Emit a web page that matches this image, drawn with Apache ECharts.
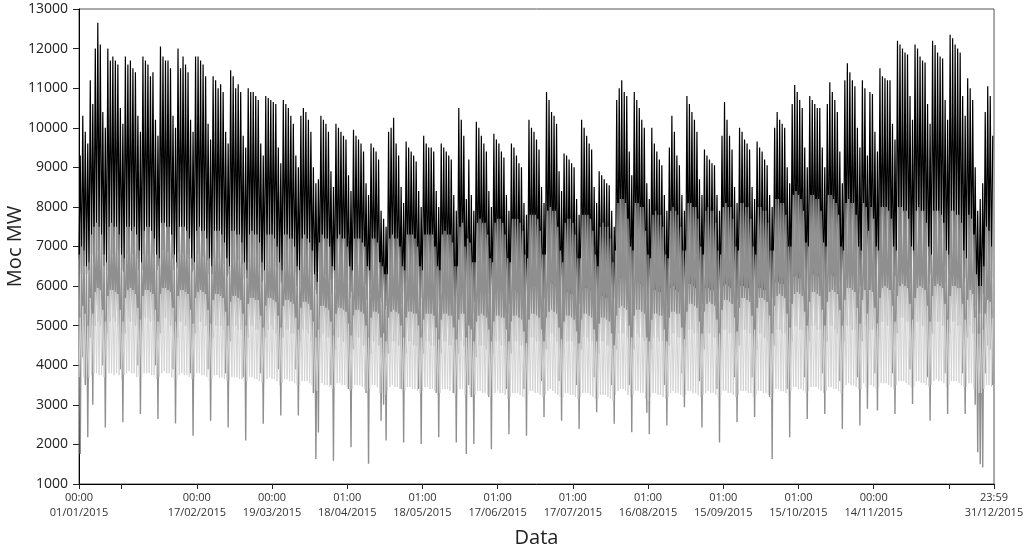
<!DOCTYPE html>
<html>
<head>
<meta charset="utf-8">
<script src="https://cdn.jsdelivr.net/npm/echarts@6/dist/echarts.min.js"></script>
<style>
html,body{margin:0;padding:0;background:#fff;}
#chart{width:1024px;height:550px;}
</style>
</head>
<body>
<div id="chart"></div>
<script>
// x = days since 01/01/2015 00:00 ; each day has a 00:00 reading and a 12:00 reading
// rows: Thu-Sun 1-4 Jan, then Mon..Sun weeks, last row Mon-Thu 28-31 Dec
var blackNight = [
6700,6300,6500,6300,
6400,6800,6600,6900,6900,6800,6500,
6400,6900,6800,6800,6900,6800,6400,
6350,6800,6850,6800,6800,6700,6400,
6400,6800,6800,6750,6800,6700,6400,
6500,6900,6900,6850,6850,6700,6400,
6450,6850,6850,6800,6800,6700,6350,
6400,6800,6800,6750,6750,6650,6300,
6300,6700,6700,6700,6650,6550,6250,
6300,6700,6650,6650,6650,6550,6200,
6200,6600,6600,6550,6550,6450,6100,
6150,6550,6550,6500,6500,6400,6050,
6100,6500,6500,6450,6450,6350,6000,
6050,6400,6400,6400,6350,6200,5900,
5800,6200,6300,6300,6250,6150,5800,
5900,6250,6250,6200,6200,6100,5700,
5850,6200,6200,6150,6150,6050,5650,
5800,6150,6150,6100,5700,5600,5400,
5500,6100,6150,6100,6050,5950,5550,
5750,6100,6100,6050,6050,5950,5500,
5700,6050,6050,6000,6000,5900,5450,
5650,6000,6000,6000,5950,5500,4900,
5300,6000,6050,5900,5600,5600,5300,
5600,6000,6000,5950,5950,5800,5350,
5600,5950,5950,5900,5900,5750,5300,
5550,5900,5900,5850,5850,5700,5250,
5600,5950,6000,6000,5950,5800,5350,
5700,6100,6100,6050,6000,5850,5400,
5500,5850,5850,5800,5800,5650,5200,
5550,5900,5950,5950,5900,5750,5250,
5400,5750,5750,5700,5700,5550,5100,
5700,6100,6200,6250,6200,6000,5500,
5750,6150,6100,6050,6000,5600,5300,
5500,5900,5900,5850,5850,5700,5250,
5500,5950,6000,5900,5850,5700,5250,
5650,6050,6050,6000,5950,5800,5350,
5550,5950,5950,5900,5900,5750,5300,
5600,6000,6050,6000,5950,5800,5350,
5650,6000,6000,5950,5950,5850,5400,
5600,5950,5950,5900,5900,5800,5350,
5700,6100,6100,6050,6050,5950,5500,
5850,6250,6250,6200,6200,6100,5650,
5900,6300,6300,6250,6250,6100,5650,
5900,6300,6300,6250,6250,6100,5500,
6000,6450,6450,6400,6400,6250,5800,
6000,6400,6300,6000,6400,6250,5800,
6100,6500,6500,6450,6450,6300,5900,
6250,6650,6650,6600,6600,6450,6050,
6250,6650,6650,6600,6600,6450,6050,
6300,6700,6700,6650,6650,6500,6100,
6300,6700,6700,6650,6650,6500,6100,
6200,6600,6500,6300,5500,5300,5300,
5800,6400,6400,6200
];
var blackDay = [
9300,10300,9900,9600,
11200,10600,12000,12650,12100,10400,10000,
12000,11700,11800,11700,11600,10500,10100,
11800,11600,11700,11500,11400,10300,9900,
11800,11700,11600,11300,11400,10200,9800,
12050,11800,11700,11700,11500,10300,10000,
12000,11500,11800,11600,11400,10200,9900,
11800,11800,11700,11600,11300,10100,9700,
11300,11200,11000,11100,10900,9900,9600,
11450,11300,11000,11100,10900,9800,9500,
11000,10900,10900,10800,10700,9600,9300,
10800,10750,10700,10650,10600,9500,9100,
10700,10600,10500,10300,10100,9300,9000,
10300,10500,10400,10200,9900,9000,8600,
8700,10300,10200,10100,9900,8900,8500,
10100,10000,9900,9800,9700,8800,8400,
9950,9800,9700,9600,9400,8600,8300,
9600,9500,9400,9200,7900,7700,7500,
9900,10000,10250,9600,9300,8500,8100,
9650,9500,9400,9300,9150,8400,8000,
9800,9600,9500,9500,9400,8400,8000,
9600,9500,9400,9300,9200,8300,7900,
10500,10200,9800,8200,9200,8300,7900,
10150,10000,9800,9600,9400,8400,8000,
9850,9700,9600,9400,9250,8300,7900,
9600,9500,9300,9100,9000,8100,7800,
10200,10000,9900,9700,9450,8500,8100,
10900,10700,10400,10300,10100,8900,8400,
9350,9300,9200,9100,9000,8200,7800,
10200,10000,9800,9600,9450,8500,8100,
8900,8800,8700,8600,8550,7900,7500,
10700,11000,11200,10900,10800,9400,8800,
10900,10700,10500,10200,10000,8600,8200,
10000,9600,9400,9200,9050,8300,7900,
9500,10300,9900,9300,9050,8300,7900,
10800,10600,10400,10200,9900,8700,8300,
9450,9300,9200,9100,9050,8300,7900,
9800,10650,10200,9800,9450,8500,8100,
10000,9900,9700,9600,9450,8500,8200,
9650,9500,9400,9200,9050,8300,8000,
10000,10400,10200,10100,10000,9000,8600,
10600,11080,10900,10700,10500,9500,9000,
10800,10700,10600,10500,10500,9500,9000,
10600,11150,10900,10700,10400,9400,8600,
11200,11630,11400,11200,11050,10000,9500,
11200,11000,9300,10900,10850,9900,9400,
11500,11300,11250,11200,11200,10100,9700,
12200,12100,12000,11900,11850,10800,10200,
12100,12000,11800,11700,11650,10600,10100,
12200,12090,11900,11800,11750,10700,10200,
12350,12260,12100,12000,11900,10800,10300,
11250,11000,10700,9000,7900,8200,8600,
10400,11050,10800,9800
];
var darkNight = [
6800,7000,6900,6500,
6600,7300,7500,7600,7500,7300,6800,
6600,7500,7600,7500,7500,7300,6800,
6700,7500,7500,7400,7500,7300,6900,
6600,7400,7500,7500,7400,7200,6800,
6700,7600,7600,7500,7500,7300,6800,
6600,7500,7500,7500,7400,7200,6700,
6600,7400,7500,7400,7400,7200,6700,
6500,7400,7400,7400,7300,7100,6700,
6500,7400,7400,7300,7300,7100,6600,
6400,7300,7400,7300,7300,7100,6600,
6400,7300,7300,7300,7200,7000,6600,
6400,7300,7300,7200,7200,7000,6500,
6400,7200,7300,7200,7100,6900,6300,
6100,7100,7300,7200,7200,7000,6500,
6400,7200,7300,7200,7200,7000,6500,
6400,7200,7200,7200,7100,7000,6500,
6400,7200,7200,7100,6600,6500,6300,
6300,7200,7300,7200,7200,7000,6500,
6400,7300,7300,7300,7200,7000,6500,
6400,7300,7300,7300,7300,7000,6500,
6400,7300,7400,7300,7300,7100,6500,
6500,7500,7600,7000,7200,7100,6600,
6600,7600,7700,7600,7600,7300,6700,
6600,7600,7700,7700,7600,7300,6700,
6600,7700,7700,7700,7600,7400,6800,
6700,7800,7800,7800,7700,7400,6800,
6800,7900,8000,7900,7900,7500,6900,
6600,7600,7700,7700,7600,7300,6700,
6700,7800,7800,7800,7700,7400,6800,
6500,7500,7600,7500,7500,7200,6600,
6900,8100,8200,8200,8100,7700,7000,
6900,8100,8100,8000,8000,7400,6800,
6700,7800,7900,7800,7800,7500,6800,
6700,7900,8000,7900,7800,7500,6900,
6900,8100,8100,8000,8000,7700,7000,
6800,7900,8000,7900,7900,7600,6900,
6800,8000,8100,8000,8000,7700,7000,
6900,8100,8100,8000,8000,7700,7000,
6800,8000,8000,7900,7900,7600,6900,
6900,8200,8200,8100,8100,7800,7000,
7000,8300,8400,8300,8200,7900,7100,
7000,8300,8300,8200,8200,7900,7100,
7000,8300,8300,8200,8100,7800,7000,
6900,8100,8200,8100,8100,7800,7000,
6900,8100,8000,7400,8000,7700,7000,
6900,8000,8000,8000,7900,7700,7000,
6900,8000,8000,7900,7900,7700,7000,
6900,7900,8000,7900,7900,7600,7000,
6800,7900,7900,7900,7800,7600,6900,
6800,7900,7900,7800,7800,7600,6900,
6700,7800,7700,7300,6300,6000,6000,
6500,7500,7400,7000
];
var darkDay = [
1760,4200,3500,2180,
4700,3000,5000,5100,5000,4000,2430,
4800,5100,5200,5100,5000,3900,2560,
4800,5200,5100,5100,5000,4000,2770,
4900,5200,5200,5100,5100,4000,2640,
4800,5100,5200,5100,5000,3900,2530,
4700,5100,5100,5000,5000,3800,2220,
4800,5100,5100,5000,5000,3900,2600,
4700,5000,5000,5000,4900,3800,2430,
4600,5000,5000,4900,4900,3700,2100,
4700,5000,5000,4900,4900,3800,2520,
4700,4900,5000,4900,4800,3900,2730,
4700,4900,4900,4800,4800,3900,2730,
4600,4900,4900,4800,4600,3300,1630,
2300,4700,4800,4700,4700,3500,1590,
4400,4700,4700,4600,4600,3400,1930,
4400,4700,4700,4600,4500,3300,1510,
4300,4600,4600,4500,2600,3000,2100,
4300,4600,4600,4600,4500,3400,2050,
4300,4600,4600,4500,4500,3400,2010,
4300,4600,4600,4500,4500,3300,2180,
4300,4600,4600,4500,4500,3300,2050,
4300,4600,4500,1760,3500,3200,2010,
4200,4500,4500,4500,4400,3200,1880,
4300,4600,4600,4500,4500,3400,2260,
4300,4600,4600,4500,4500,3400,2220,
4400,4700,4700,4600,4600,3600,2690,
4400,4700,4800,4700,4600,3600,2600,
4300,4600,4600,4600,4500,3500,2390,
4400,4700,4700,4600,4600,3700,2810,
4300,4600,4600,4500,4500,3500,2520,
4400,4800,4800,4800,4700,3500,2310,
4400,4800,4700,4700,4600,2800,2260,
4400,4700,4700,4600,4600,3500,2480,
4500,4800,4800,4700,4700,3800,2940,
4500,4900,4900,4800,4800,3600,2430,
4400,4800,4800,4700,4700,3400,2050,
4500,4900,4900,4800,4800,3700,2560,
4500,4900,4900,4800,4800,3700,2690,
4400,4800,4800,4700,4600,3200,1630,
4500,4900,4900,4800,4800,3400,2180,
4600,5000,5000,4900,4900,3700,2640,
4600,5000,5000,4900,4900,3800,2770,
4600,5000,5000,4900,4800,3600,2390,
4600,5000,5000,4900,4900,3700,2480,
4600,5000,2900,4900,4900,3800,2860,
4700,5100,5100,5000,5000,3800,2770,
4800,5200,5200,5100,5100,3900,3020,
4700,5100,5100,5000,5000,3700,2600,
4800,5100,5100,5100,5000,3800,2770,
4800,5100,5100,5000,5000,3800,2770,
4700,5000,4800,3000,1800,1500,1420,
3800,4500,4400,3500
];
var lightNight = [
3700,3750,3700,3650,
3700,3750,3800,3800,3750,3750,3700,
3700,3800,3800,3750,3800,3750,3650,
3750,3800,3850,3800,3800,3700,3700,
3700,3800,3800,3800,3750,3750,3650,
3700,3800,3850,3800,3800,3700,3650,
3650,3750,3800,3750,3750,3700,3650,
3700,3800,3800,3750,3750,3700,3600,
3650,3750,3750,3700,3700,3650,3600,
3600,3700,3700,3700,3650,3650,3550,
3600,3700,3700,3650,3650,3600,3550,
3550,3650,3700,3650,3650,3600,3500,
3550,3650,3650,3600,3600,3550,3500,
3500,3600,3600,3600,3550,3500,3400,
3350,3550,3550,3500,3500,3450,3400,
3450,3550,3550,3500,3500,3450,3350,
3400,3500,3500,3500,3450,3400,3350,
3400,3500,3500,3450,3300,3300,3250,
3350,3450,3500,3450,3450,3400,3300,
3350,3450,3450,3400,3400,3350,3300,
3350,3450,3450,3400,3400,3350,3250,
3300,3400,3400,3400,3350,3300,3250,
3300,3400,3400,3250,3300,3250,3200,
3250,3350,3350,3300,3300,3250,3200,
3250,3300,3350,3300,3300,3250,3150,
3200,3300,3300,3300,3250,3200,3150,
3250,3350,3350,3300,3300,3250,3200,
3250,3350,3400,3350,3300,3250,3200,
3200,3300,3300,3250,3250,3200,3150,
3200,3300,3300,3300,3250,3200,3150,
3150,3250,3250,3250,3200,3150,3100,
3250,3350,3400,3400,3350,3250,3200,
3250,3350,3350,3300,3300,3150,3100,
3200,3300,3300,3250,3250,3200,3150,
3200,3300,3350,3300,3300,3250,3200,
3250,3350,3350,3300,3300,3250,3200,
3250,3300,3350,3300,3300,3250,3200,
3250,3350,3350,3300,3300,3250,3200,
3250,3350,3350,3350,3300,3300,3200,
3250,3350,3350,3300,3300,3250,3150,
3300,3400,3400,3350,3350,3300,3250,
3350,3450,3450,3400,3400,3350,3300,
3350,3450,3450,3450,3400,3350,3300,
3350,3450,3450,3400,3400,3350,3300,
3400,3500,3550,3500,3500,3450,3400,
3400,3550,3450,3500,3500,3450,3400,
3450,3550,3550,3550,3500,3450,3400,
3500,3600,3600,3600,3550,3500,3450,
3450,3600,3600,3550,3550,3500,3450,
3500,3600,3650,3600,3600,3550,3450,
3500,3600,3600,3600,3550,3500,3450,
3450,3550,3550,3400,3300,3300,3300,
3400,3500,3500,3450
];
var lightDay = [
5200,5500,5300,5000,
5700,5300,5850,5950,5900,5400,5100,
5750,5900,5900,5850,5800,5400,5100,
5700,5900,5950,5900,5800,5450,5150,
5750,5900,5900,5850,5800,5400,5100,
5800,5950,5950,5900,5850,5450,5100,
5750,5900,5900,5850,5800,5400,5050,
5700,5850,5900,5850,5800,5400,5050,
5650,5800,5800,5750,5700,5350,5000,
5600,5750,5750,5700,5650,5300,5000,
5550,5700,5700,5650,5650,5250,4950,
5500,5700,5700,5650,5600,5250,4950,
5500,5650,5650,5600,5550,5200,4900,
5450,5600,5600,5550,5400,5100,4700,
4900,5500,5500,5450,5400,5100,4750,
5300,5450,5450,5400,5350,5050,4750,
5250,5400,5400,5350,5300,5000,4700,
5200,5350,5350,5300,4700,4800,4600,
5200,5350,5400,5350,5300,5000,4700,
5200,5350,5350,5300,5300,5000,4700,
5150,5300,5300,5300,5250,4950,4650,
5150,5300,5300,5250,5250,4950,4650,
5150,5300,5300,4700,5000,4900,4600,
5100,5250,5300,5250,5200,4900,4600,
5100,5250,5250,5200,5200,4900,4600,
5100,5250,5250,5200,5150,4850,4550,
5150,5300,5300,5250,5200,4900,4600,
5200,5350,5400,5350,5300,4950,4650,
5100,5250,5250,5200,5150,4850,4550,
5150,5300,5300,5250,5200,4900,4600,
5050,5200,5200,5150,5100,4800,4500,
5250,5450,5500,5450,5400,5000,4700,
5250,5400,5400,5350,5300,4700,4600,
5150,5300,5300,5250,5250,4900,4600,
5200,5350,5350,5300,5300,4950,4650,
5350,5550,5550,5500,5450,5100,4800,
5350,5550,5600,5550,5500,5150,4800,
5400,5650,5650,5600,5550,5200,4850,
5450,5700,5700,5650,5600,5250,4900,
5450,5700,5700,5650,5600,5250,4800,
5500,5750,5800,5750,5700,5300,4950,
5550,5800,5850,5800,5750,5350,5000,
5600,5850,5850,5800,5750,5400,5000,
5600,5850,5900,5850,5800,5400,5000,
5650,5950,5950,5900,5850,5450,5050,
5650,5900,5300,5900,5850,5450,5050,
5700,5950,6000,5950,5900,5500,5100,
5750,6000,6050,6000,5950,5550,5150,
5700,5950,6000,5950,5900,5500,5100,
5750,6000,6050,6000,5950,5550,5150,
5750,6000,6000,5950,5950,5550,5150,
5650,5900,5800,5200,4800,4800,4900,
5300,5650,5600,5200
];
var yTicks = {min: 1000, max: 13000, step: 1000};
var tickDays = [0, 17, 47, 77, 107, 137, 167, 197, 227, 257, 287, 317, 347, 364.9993];
var labelDays = [0, 47, 77, 107, 137, 167, 197, 227, 257, 287, 317, 364.9993];
var tickLabels = ['00:00\n01/01/2015','00:00\n17/02/2015','00:00\n19/03/2015','01:00\n18/04/2015','01:00\n18/05/2015','01:00\n17/06/2015','01:00\n17/07/2015','01:00\n16/08/2015','01:00\n15/09/2015','01:00\n15/10/2015','00:00\n14/11/2015','23:59\n31/12/2015'];
var yName = 'Moc MW';
var xName = 'Data';

function build(night, day) {
  var pts = [];
  for (var d = 0; d < night.length; d++) {
    pts.push([d, night[d]]);
    pts.push([d + 0.5, day[d]]);
  }
  return pts;
}

var chart = echarts.init(document.getElementById('chart'), null, {renderer: 'canvas'});
var FONT = '"Open Sans", "Noto Sans", sans-serif';
function lineSeries(name, data, color, width, z) {
  return {
    name: name, type: 'line', data: data, showSymbol: false, symbol: 'none',
    lineStyle: {color: color, width: width}, z: z, silent: true, animation: false,
    sampling: null, progressive: 0
  };
}
chart.setOption({
  animation: false,
  backgroundColor: '#fff',
  textStyle: {fontFamily: FONT},
  grid: {left: 79, right: 30, top: 9, bottom: 66, containLabel: false, outerBoundsMode: 'none',
         show: true, borderColor: '#555', borderWidth: 1},
  xAxis: {
    type: 'value', min: 0, max: 364.9993,
    name: xName, nameLocation: 'middle', nameGap: 44, nameMoveOverlap: false,
    nameTextStyle: {fontSize: 20, color: '#222', fontFamily: FONT},
    axisLine: {show: true, lineStyle: {color: '#000', width: 1}},
    axisTick: {show: true, length: 5, customValues: tickDays, lineStyle: {color: '#222'}},
    axisLabel: {
      show: true, customValues: labelDays, fontSize: 11, lineHeight: 15, color: '#333', margin: 6,
      fontFamily: FONT, showMinLabel: true, showMaxLabel: true, hideOverlap: false,
      formatter: function (v) {
        for (var i = 0; i < labelDays.length; i++) {
          if (Math.abs(v - labelDays[i]) < 0.01) return tickLabels[i];
        }
        return '';
      }
    },
    splitLine: {show: false}
  },
  yAxis: {
    type: 'value', min: yTicks.min, max: yTicks.max, interval: yTicks.step,
    name: yName, nameLocation: 'middle', nameGap: 54, nameMoveOverlap: false,
    nameTextStyle: {fontSize: 20, color: '#222', fontFamily: FONT},
    axisLine: {show: true, lineStyle: {color: '#000', width: 1}},
    axisTick: {show: true, length: 6, lineStyle: {color: '#222'}},
    axisLabel: {fontSize: 14, color: '#222', margin: 11, fontFamily: FONT,
                formatter: function (v) { return String(v); }},
    splitLine: {show: false}
  },
  series: [
    lineSeries('black', build(blackNight, blackDay), '#000000', 1.2, 1),
    lineSeries('dark', build(darkNight, darkDay), '#8f8f8f', 1.4, 2),
    lineSeries('light', build(lightNight, lightDay), '#d3d3d3', 1, 3)
  ]
});
</script>
</body>
</html>
